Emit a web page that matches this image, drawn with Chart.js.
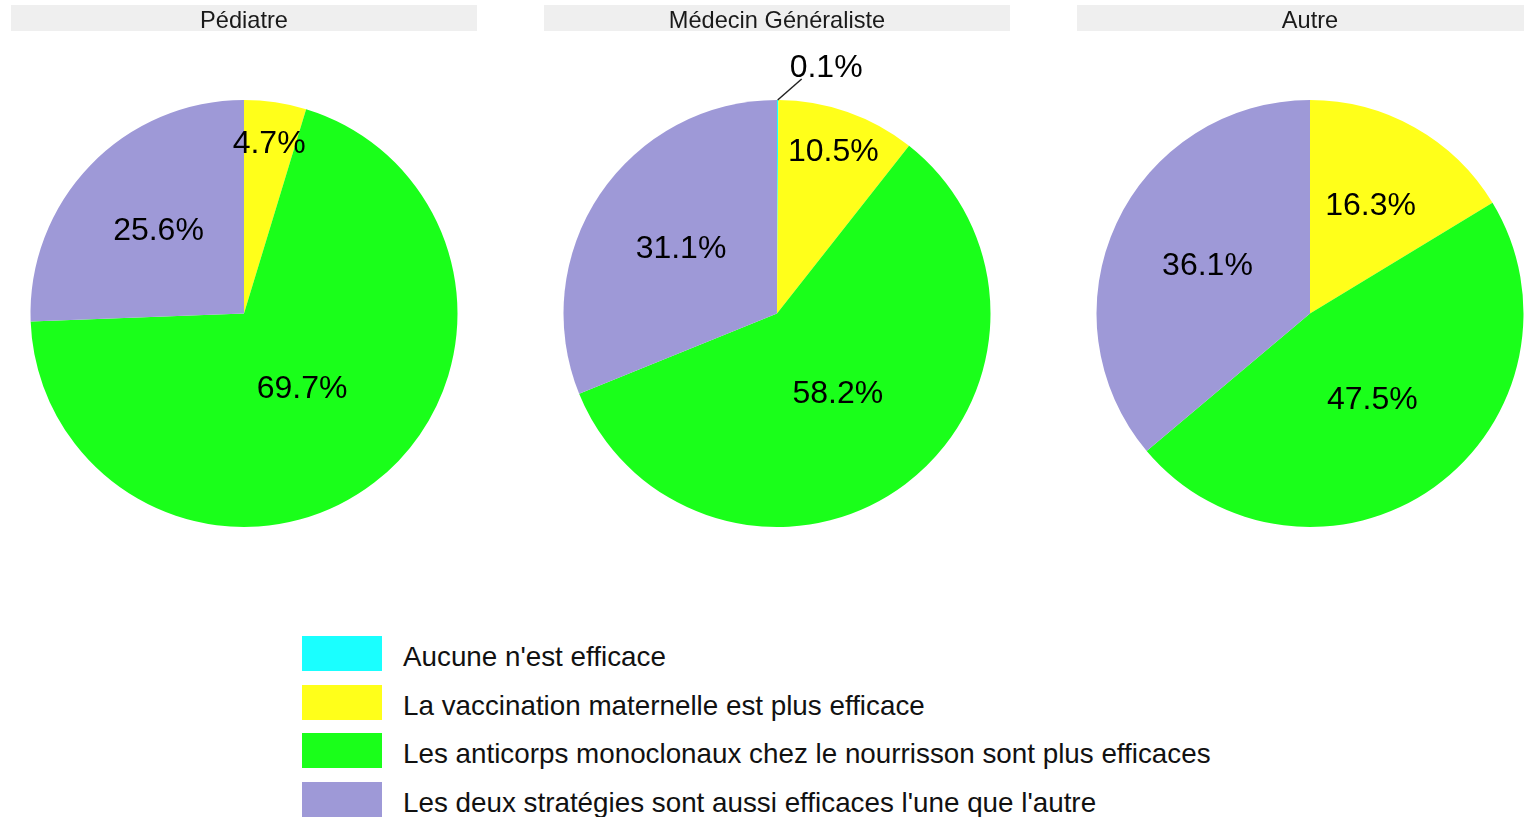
<!DOCTYPE html>
<html>
<head>
<meta charset="utf-8">
<script src="https://cdn.jsdelivr.net/npm/chart.js@4"></script>
<style>
  body { margin: 0; background: #fff; font-family: "Liberation Sans", Arial, Helvetica, sans-serif; }
  #wrap { position: relative; width: 1524px; height: 817px; overflow: hidden; }
  .panel { position: absolute; top: 0; width: 466px; height: 627px; }
  .panel canvas { position: absolute; left: 0; top: 0; }
  .strip { position: absolute; left: 0; top: 5px; width: 466px; height: 26px; background: #efefef;
           text-align: center; font-size: 23.6px; line-height: 30px; color: #1a1a1a; white-space: nowrap; }
  .row { position: absolute; left: 302px; height: 35px; }
  .sw { position: absolute; left: 0; top: 0; width: 80px; height: 35px; }
  .lab { position: absolute; left: 101px; top: 3px; font-size: 27.8px; line-height: 35px; color: #111; white-space: nowrap; }
</style>
</head>
<body>
<div id="wrap"></div>
<script>
// données
const groups = ['Pédiatre', 'Médecin Généraliste', 'Autre'];
const answers = [
    "Aucune n'est efficace",
    'La vaccination maternelle est plus efficace',
    'Les anticorps monoclonaux chez le nourrisson sont plus efficaces',
    "Les deux stratégies sont aussi efficaces l'une que l'autre"
];
const pediatre = [0, 4.7, 69.7, 25.6];
const generaliste = [0.1, 10.5, 58.2, 31.1];
const autre = [0, 16.3, 47.5, 36.1];
const colors = ['#1affff', '#ffff1a', '#1aff1a', '#9e99d7'];

const seriesList = [pediatre, generaliste, autre];
const panelLeft = [11, 544, 1077];

const wrap = document.getElementById('wrap');

// étiquettes de pourcentage dans les parts
const pctLabels = {
    id: 'pctLabels',
    afterDatasetsDraw(chart) {
        const ctx = chart.ctx;
        const data = chart.data.datasets[0].data;
        const total = data.reduce((a, b) => a + b, 0);
        ctx.save();
        ctx.fillStyle = '#000';
        ctx.font = '32px "Liberation Sans", Arial, sans-serif';
        chart.getDatasetMeta(0).data.forEach((arc, i) => {
            const v = data[i];
            if (!v) return;
            const p = arc.getProps(['x', 'y', 'startAngle', 'endAngle', 'outerRadius'], true);
            const a = (p.startAngle + p.endAngle) / 2;
            const f = v / total;
            const txt = v.toFixed(1) + '%';
            if (f < 0.02) {
                // petite part : étiquette à l'extérieur avec un trait
                const sx = p.x + p.outerRadius * Math.cos(a);
                const sy = p.y + p.outerRadius * Math.sin(a);
                const ex = sx + 24, ey = sy - 21;
                ctx.strokeStyle = '#222';
                ctx.lineWidth = 1.5;
                ctx.beginPath();
                ctx.moveTo(sx, sy);
                ctx.lineTo(ex, ey);
                ctx.stroke();
                ctx.textAlign = 'left';
                ctx.textBaseline = 'alphabetic';
                ctx.fillText(txt, ex - 12, ey - 2);
                return;
            }
            const r = f < 0.12 ? p.outerRadius * 0.8 : p.outerRadius * (0.62 - 0.25 * f);
            ctx.textAlign = 'center';
            ctx.textBaseline = 'middle';
            ctx.fillText(txt, p.x + r * Math.cos(a), p.y + r * Math.sin(a));
        });
        ctx.restore();
    }
};

groups.forEach((g, k) => {
    const panel = document.createElement('div');
    panel.className = 'panel';
    panel.style.left = panelLeft[k] + 'px';
    const cv = document.createElement('canvas');
    cv.width = 466;
    cv.height = 627;
    cv.style.width = '466px';
    cv.style.height = '627px';
    panel.appendChild(cv);
    const strip = document.createElement('div');
    strip.className = 'strip';
    strip.textContent = g;
    panel.appendChild(strip);
    wrap.appendChild(panel);

    new Chart(cv, {
        type: 'pie',
        data: {
            labels: answers,
            datasets: [{
                data: seriesList[k],
                backgroundColor: colors,
                borderWidth: 0
            }]
        },
        options: {
            responsive: false,
            animation: false,
            layout: { padding: { top: 100, bottom: 100, left: 0, right: 0 } },
            plugins: {
                legend: { display: false },
                tooltip: { enabled: false }
            }
        },
        plugins: [pctLabels]
    });
});

// légende
answers.forEach((txt, i) => {
    const row = document.createElement('div');
    row.className = 'row';
    row.style.top = (636 + i * 48.6) + 'px';
    const sw = document.createElement('div');
    sw.className = 'sw';
    sw.style.background = colors[i];
    const lab = document.createElement('div');
    lab.className = 'lab';
    lab.textContent = txt;
    row.appendChild(sw);
    row.appendChild(lab);
    wrap.appendChild(row);
});
</script>
</body>
</html>
